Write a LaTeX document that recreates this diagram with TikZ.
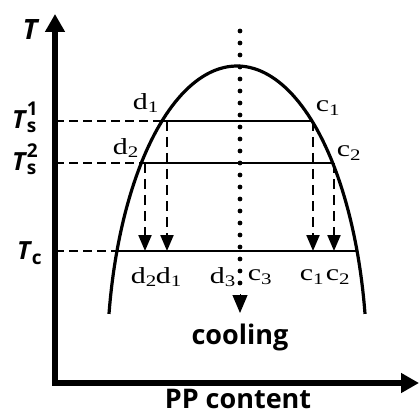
\documentclass[tikz,border=0pt]{standalone}
\usepackage{fontspec}
\usepackage{graphicx}
\setmainfont{Liberation Serif}
\newfontfamily\sansb{Open Sans}
\usetikzlibrary{arrows.meta}
\newcommand{\wide}[1]{\scalebox{1.3}[1]{#1}}
\begin{document}
\begin{tikzpicture}[x=1pt,y=-1pt,
  axis/.style={line width=5.5pt,line join=miter,{Triangle[length=18pt,width=19pt]}-{Triangle[length=18pt,width=19pt]}},
  curve/.style={line width=3.2pt},
  level/.style={line width=2pt},
  dashguide/.style={line width=2.2pt,dash pattern=on 9pt off 5pt},
  drop/.style={line width=2.2pt,dash pattern=on 10pt off 6pt,-{Triangle[length=16pt,width=13pt]}},
  dotline/.style={line width=4.8pt,line cap=round,dash pattern=on 0pt off 12pt},
  lab/.style={font=\fontsize{23}{23}\selectfont, inner sep=0pt},
  axlab/.style={font=\sansb\bfseries\fontsize{25}{25}\selectfont, inner sep=0pt},
  word/.style={font=\sansb\bfseries\fontsize{27}{27}\selectfont, inner sep=0pt}
]
\useasboundingbox (0,0) rectangle (420,414);
% axes
\coordinate (O) at (55,383);
\coordinate (ytop) at (55,14);
\coordinate (xend) at (419,383);
\draw[axis] (ytop) -- (O) -- (xend);
% curve
\draw[curve] plot[domain=10:170,samples=100] ({237+130*cos(\x)},{366-300*sin(\x)});
% intersection points
\coordinate (L1) at (162,121); \coordinate (R1) at (312,121);
\coordinate (L2) at (141.3,163); \coordinate (R2) at (332.7,163);
\coordinate (L3) at (116.9,251); \coordinate (R3) at (357.1,251);
\coordinate (A1) at (55,121); \coordinate (A2) at (55,163); \coordinate (A3) at (55,251);
\draw[level] (L1) -- (R1);
\draw[level] (L2) -- (R2);
\draw[level] (L3) -- (R3);
\draw[dashguide] (A1) -- (L1);
\draw[dashguide] (A2) -- (L2);
\draw[dashguide] (A3) -- (L3);
% drop arrows
\coordinate (P1) at (167,121); \coordinate (Q1) at (167,251);
\coordinate (P2) at (145,163); \coordinate (Q2) at (145,251);
\coordinate (P3) at (313,121); \coordinate (Q3) at (313,251);
\coordinate (P4) at (334,163); \coordinate (Q4) at (334,251);
\draw[drop] (P1) -- (Q1);
\draw[drop] (P2) -- (Q2);
\draw[drop] (P3) -- (Q3);
\draw[drop] (P4) -- (Q4);
% cooling line
\coordinate (D0) at (240,31);
\coordinate (D1) at (240,283);
\coordinate (D2) at (240,294);
\coordinate (D3) at (240,313);
\draw[dotline] (D0) -- (D1);
\draw[line width=1pt,-{Triangle[length=18pt,width=15pt]}] (D2) -- (D3);
% labels
\node[lab] (d1t) at (146,103) {\wide{d\textsubscript{1}}};
\node[lab] (d2t) at (126,148) {\wide{d\textsubscript{2}}};
\node[lab] (c1t) at (328,108) {\wide{c\textsubscript{1}}};
\node[lab] (c2t) at (349,153) {\wide{c\textsubscript{2}}};
\node[lab] (d2b) at (144,277) {\wide{d\textsubscript{2}}};
\node[lab] (d1b) at (169,277) {\wide{d\textsubscript{1}}};
\node[lab] (d3b) at (223,277) {\wide{d\textsubscript{3}}};
\node[lab] (c3b) at (260,277) {\wide{c\textsubscript{3}}};
\node[lab] (c1b) at (312,277) {\wide{c\textsubscript{1}}};
\node[lab] (c2b) at (338,277) {\wide{c\textsubscript{2}}};
% axis labels
\node[axlab,font=\sansb\bfseries\itshape\fontsize{28}{28}\selectfont] (T) at (30,30) {T};
\node[axlab,anchor=base west] (Ts1) at (12,129) {\itshape T\kern1.5pt\rlap{\raisebox{-0.15em}{\upshape\fontsize{19}{19}\selectfont s}}\raisebox{0.52em}{\upshape\fontsize{19}{19}\selectfont 1}};
\node[axlab,anchor=base west] (Ts2) at (12,171) {\itshape T\kern1.5pt\rlap{\raisebox{-0.15em}{\upshape\fontsize{19}{19}\selectfont s}}\raisebox{0.52em}{\upshape\fontsize{19}{19}\selectfont 2}};
\node[axlab,anchor=base west] (Tc) at (17,259) {\itshape T\kern1.5pt\raisebox{-0.2em}{\upshape\fontsize{19}{19}\selectfont c}};
\node[word] (cool) at (240,337) {cooling};
\node[word,anchor=base] (pp) at (238,408) {PP content};
\end{tikzpicture}
\end{document}
